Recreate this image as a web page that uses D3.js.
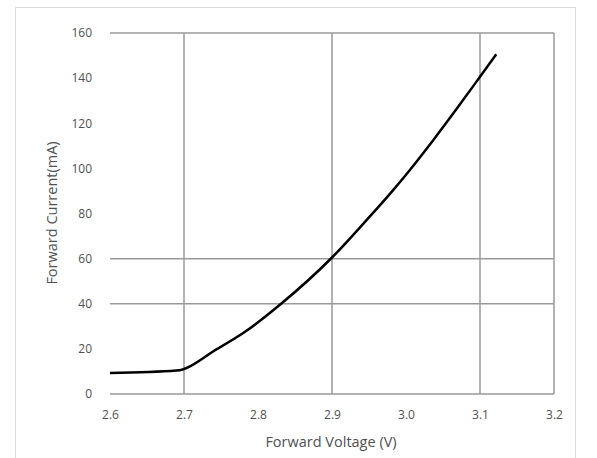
<!DOCTYPE html>
<html>
<head>
<meta charset="utf-8">
<script src="https://cdn.jsdelivr.net/npm/d3@7"></script>
<style>
  body { margin: 0; background: #fff; }
  svg { display: block; }
</style>
</head>
<body>
<main></main>
<script>
// Forward voltage (V) and forward current (mA)
const voltage = [2.6, 2.69, 2.745, 2.78, 2.832, 2.90, 2.947, 2.978, 3.005, 3.037, 3.069, 3.10, 3.122];
const current = [9.3, 10.4, 20.0, 27.0, 40.2, 60.5, 77.2, 88.6, 99.2, 112.6, 126.6, 140.6, 150.6];
const xTicks = [2.6, 2.7, 2.8, 2.9, 3.0, 3.1, 3.2];
const yTicks = [0, 20, 40, 60, 80, 100, 120, 140, 160];
// gridlines that are visible in the picture
const xGrid = [2.7, 2.9, 3.1, 3.2];
const yGrid = [0, 40, 60, 160];

const width = 597;
const height = 458;
const font = "'Open Sans', 'Liberation Sans', sans-serif";

const svg = d3.select('main')
  .append('svg')
  .attr('width', width)
  .attr('height', height)

// Outer frame
svg.append('rect')
  .attr('x', 15.5)
  .attr('y', 7.5)
  .attr('width', 560)
  .attr('height', 452)
  .style('fill', 'none')
  .style('stroke', '#dcdcdc')

const x = d3.scaleLinear()
  .domain([2.6, 3.2])
  .range([110, 554])

const y = d3.scaleLinear()
  .domain([0, 160])
  .range([394, 33])

// Gridlines
svg.append('g')
  .selectAll('line')
  .data(xGrid)
  .enter()
  .append('line')
  .attr('x1', d => x(d))
  .attr('x2', d => x(d))
  .attr('y1', y(0))
  .attr('y2', y(160))
  .style('stroke', '#9a9a9a')
  .style('stroke-width', 1.5)

svg.append('g')
  .selectAll('line')
  .data(yGrid)
  .enter()
  .append('line')
  .attr('x1', x(2.6))
  .attr('x2', x(3.2))
  .attr('y1', d => y(d))
  .attr('y2', d => y(d))
  .style('stroke', '#9a9a9a')
  .style('stroke-width', 1.5)

// Axes (labels only)
const xAxis = svg.append('g')
  .attr('transform', `translate(0, ${y(0) + 13})`)
  .call(d3.axisBottom(x).tickValues(xTicks).tickSize(0).tickFormat(d3.format('.1f')))
xAxis.select('.domain').remove()

const yAxis = svg.append('g')
  .attr('transform', `translate(${x(2.6) - 15}, 0)`)
  .call(d3.axisLeft(y).tickValues(yTicks).tickSize(0))
yAxis.select('.domain').remove()

svg.selectAll('.tick text')
  .style('font-family', font)
  .style('font-size', '12px')
  .style('fill', '#505050')

// Curve
svg.append('path')
  .datum(d3.zip(voltage, current))
  .attr('d', d3.line().x(d => x(d[0])).y(d => y(d[1])).curve(d3.curveMonotoneX))
  .style('fill', 'none')
  .style('stroke', '#000')
  .style('stroke-width', 2.5)
  .style('stroke-linejoin', 'round')

// Axis titles
svg.append('text')
  .attr('x', 331)
  .attr('y', 447)
  .attr('text-anchor', 'middle')
  .text('Forward Voltage (V)')
  .style('font-family', font)
  .style('font-size', '14.5px')
  .style('fill', '#505050')

svg.append('text')
  .attr('transform', 'translate(57, 213) rotate(-90)')
  .attr('text-anchor', 'middle')
  .text('Forward Current(mA)')
  .style('font-family', font)
  .style('font-size', '14.5px')
  .style('fill', '#505050')
</script>
</body>
</html>
